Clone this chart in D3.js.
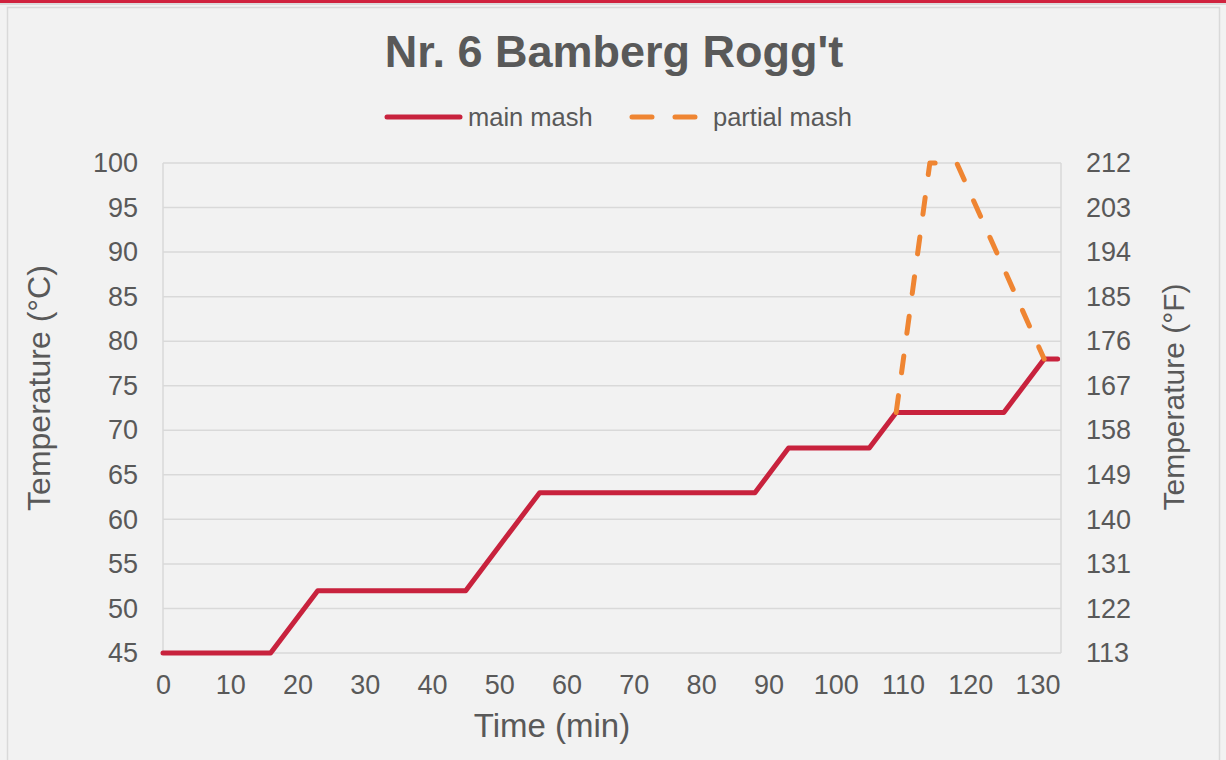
<!DOCTYPE html>
<html>
<head>
<meta charset="utf-8">
<script src="https://cdn.jsdelivr.net/npm/d3@7"></script>
<style>
  body { margin: 0; background: #f2f2f2; }
  svg { display: block; font-family: "Liberation Sans", Arial, sans-serif; }
</style>
</head>
<body>
<svg id="chart" width="1226" height="760"></svg>
<script>
// data: time in minutes, temperature in °C
var main_time = [0, 16, 23, 45, 56, 88, 93, 105, 109, 125, 131, 133];
var main_temp = [45, 45, 52, 52, 63, 63, 68, 68, 72, 72, 78, 78];
var partial_time = [109, 114, 118, 131];
var partial_temp = [72, 100, 100, 78];

var x_ticks = [0, 10, 20, 30, 40, 50, 60, 70, 80, 90, 100, 110, 120, 130];
var c_ticks = [45, 50, 55, 60, 65, 70, 75, 80, 85, 90, 95, 100];
var f_ticks = [113, 122, 131, 140, 149, 158, 167, 176, 185, 194, 203, 212];

var series = [
    {name: "main mash", color: "#c8223d", dash: null,
     points: main_time.map(function(t, i) { return [t, main_temp[i]]; })},
    {name: "partial mash", color: "#ef8532", dash: "17,23",
     points: partial_time.map(function(t, i) { return [t, partial_temp[i]]; })}
];

var svg = d3.select("#chart"),
    width = +svg.attr("width"),
    height = +svg.attr("height");

var margin = {left: 163, right: 1061, top: 163, bottom: 653};

// frame of the card
svg.append("rect")
    .attr("x", 7.5).attr("y", 7.5)
    .attr("width", width - 14).attr("height", height)
    .attr("fill", "#f2f2f2")
    .attr("stroke", "#d9d9d9")
    .attr("stroke-width", 1.5);
svg.append("rect")
    .attr("x", 0).attr("y", 0)
    .attr("width", width).attr("height", 3)
    .attr("fill", "#d0223e");
svg.append("line")
    .attr("x1", 0).attr("x2", width)
    .attr("y1", 4).attr("y2", 4)
    .attr("stroke", "#dcdcdc").attr("stroke-width", 2);

var x = d3.scaleLinear().domain([0, 133.5]).range([margin.left, margin.right]);
var y = d3.scaleLinear().domain([45, 100]).range([margin.bottom, margin.top]);
var yF = d3.scaleLinear().domain([113, 212]).range([margin.bottom, margin.top]);

// grid lines
svg.append("g")
    .selectAll("line")
    .data(c_ticks)
    .enter()
    .append("line")
    .attr("x1", margin.left).attr("x2", margin.right)
    .attr("y1", function(d) { return y(d); })
    .attr("y2", function(d) { return y(d); })
    .attr("stroke", "#d9d9d9")
    .attr("stroke-width", 1.5);

[margin.left, margin.right].forEach(function(px) {
    svg.append("line")
        .attr("x1", px).attr("x2", px)
        .attr("y1", margin.top).attr("y2", margin.bottom)
        .attr("stroke", "#d9d9d9")
        .attr("stroke-width", 1.5);
});

// axes, drawn with d3 and then stripped of their lines
var label_color = "#595959";

function style_axis(g) {
    g.select(".domain").remove();
    g.selectAll(".tick line").remove();
    g.selectAll(".tick text")
        .attr("fill", label_color)
        .style("font-size", "27px")
        .style("font-family", "'Liberation Sans', Arial, sans-serif");
}

svg.append("g")
    .attr("transform", "translate(0," + margin.bottom + ")")
    .call(d3.axisBottom(x).tickValues(x_ticks).tickSize(0).tickPadding(22))
    .call(style_axis);

svg.append("g")
    .attr("transform", "translate(" + margin.left + ",0)")
    .call(d3.axisLeft(y).tickValues(c_ticks).tickSize(0).tickPadding(25))
    .call(style_axis);

svg.append("g")
    .attr("transform", "translate(" + margin.right + ",0)")
    .call(d3.axisRight(yF).tickValues(f_ticks).tickSize(0).tickPadding(25))
    .call(style_axis);

// lines
var line = d3.line()
    .x(function(d) { return x(d[0]); })
    .y(function(d) { return y(d[1]); });

svg.append("g")
    .selectAll("path")
    .data(series)
    .enter()
    .append("path")
    .attr("d", function(d) { return line(d.points); })
    .attr("fill", "none")
    .attr("stroke", function(d) { return d.color; })
    .attr("stroke-width", 5)
    .attr("stroke-linecap", "round")
    .attr("stroke-linejoin", "round")
    .attr("stroke-dasharray", function(d) { return d.dash; });

// title
svg.append("text")
    .attr("x", 614).attr("y", 67)
    .attr("text-anchor", "middle")
    .attr("fill", label_color)
    .style("font-size", "45px")
    .style("font-weight", "bold")
    .text("Nr. 6 Bamberg Rogg't");

// legend
var legend_x = [387, 632];
var legend = svg.append("g")
    .selectAll("g")
    .data(series)
    .enter()
    .append("g")
    .attr("transform", function(d, i) { return "translate(" + legend_x[i] + ",117)"; });

legend.append("line")
    .attr("x1", 0).attr("x2", function(d) { return d.dash ? 64 : 73; })
    .attr("stroke", function(d) { return d.color; })
    .attr("stroke-width", 5)
    .attr("stroke-linecap", "round")
    .attr("stroke-dasharray", function(d) { return d.dash ? "20,23" : null; });

legend.append("text")
    .attr("x", 81)
    .attr("dy", "0.35em")
    .attr("fill", label_color)
    .style("font-size", "25.5px")
    .text(function(d) { return d.name; });

// axis titles
svg.append("text")
    .attr("x", 552).attr("y", 737)
    .attr("text-anchor", "middle")
    .attr("fill", label_color)
    .style("font-size", "33px")
    .text("Time (min)");

svg.append("text")
    .attr("transform", "translate(50,388) rotate(-90)")
    .attr("text-anchor", "middle")
    .attr("fill", label_color)
    .style("font-size", "32px")
    .text("Temperature (°C)");

svg.append("text")
    .attr("transform", "translate(1184,397) rotate(-90)")
    .attr("text-anchor", "middle")
    .attr("fill", label_color)
    .style("font-size", "30px")
    .text("Temperature (°F)");
</script>
</body>
</html>
